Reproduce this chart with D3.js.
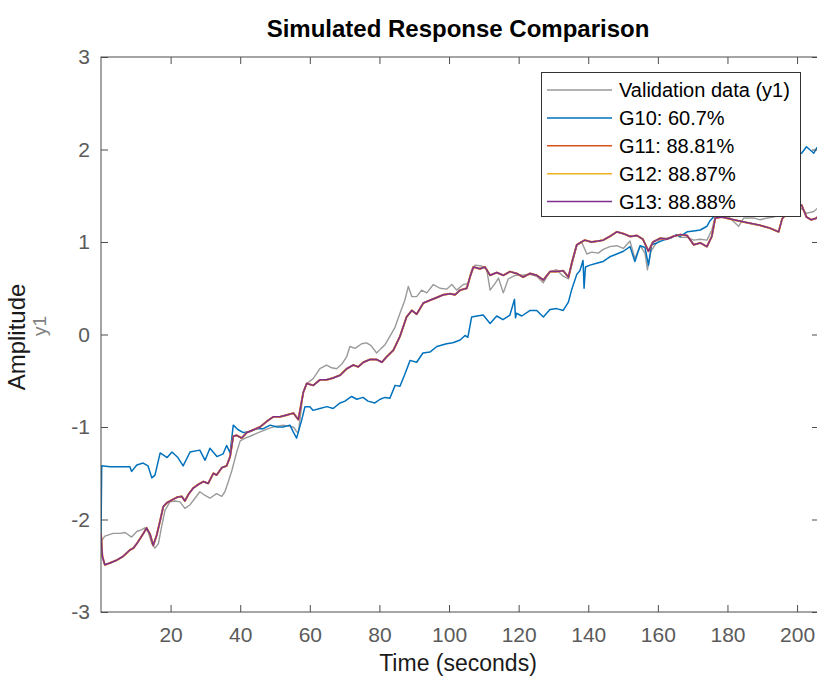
<!DOCTYPE html>
<html>
<head>
<meta charset="utf-8">
<script src="https://cdn.jsdelivr.net/npm/d3@7"></script>
<style>
  html, body { margin: 0; padding: 0; background: #ffffff; }
  svg { display: block; font-family: "Liberation Sans", Arial, sans-serif; }
</style>
</head>
<body>
<svg id="chart" width="817" height="677"></svg>
<script>
// Tick values
const xTicks = [20, 40, 60, 80, 100, 120, 140, 160, 180, 200];
const yTicks = [-3, -2, -1, 0, 1, 2, 3];

// Measured output (validation data)
const validationTime = [0,1.1,3.5,5.5,6.9,8.8,10.3,11.7,12.6,13.6,14.6,15.5,16.5,17.4,18.4,19.8,21.3,22.7,24.1,25.6,27,28.4,29.9,31.3,33.2,34.7,35.6,36.6,37.6,39,40,41.4,42.8,44.7,46.6,48.6,50.5,52.4,53.7,55.3,56.2,56.7,57.3,58.1,59.1,60.9,62.9,64.8,66.3,67.7,69.2,70.6,71.5,73,74.9,76.3,77.6,79.2,80.5,81.6,83,84.5,85.9,87.3,88.3,89.3,90.7,92.1,93.6,95.5,97.4,99.3,100.8,102.2,104.1,105.5,106.5,107.5,109.4,110.8,111.8,113.2,114.2,115.6,117,119,120.9,123.3,125.2,127.1,129,130.9,132.8,134.3,135.3,136.7,138.1,139.6,141,142.9,144.3,146.2,148.2,150.1,152,153.4,154.9,156.3,157,158,159.2,161.1,163.5,165.4,166.4,168.4,170.3,172.2,174.1,175.5,176.5,178.4,180.1,181.8,183.2,184.7,187.5,189.4,191.4,193.3,195.7,198.5,201.3,202.7,204.8,205.7,206.3];
const validationAmp = [-2.24,-2.18,-2.15,-2.15,-2.14,-2.19,-2.13,-2.11,-2.09,-2.14,-2.26,-2.31,-2.26,-2.08,-1.90,-1.81,-1.80,-1.81,-1.88,-1.84,-1.77,-1.70,-1.74,-1.77,-1.72,-1.75,-1.70,-1.59,-1.47,-1.27,-1.15,-1.12,-1.10,-1.07,-1.04,-1.01,-0.99,-0.98,-0.99,-1.00,-1.05,-1.06,-0.88,-0.62,-0.53,-0.48,-0.37,-0.33,-0.36,-0.37,-0.32,-0.24,-0.13,-0.15,-0.10,-0.09,-0.12,-0.20,-0.15,-0.11,-0.02,0.08,0.23,0.37,0.52,0.41,0.41,0.48,0.45,0.54,0.50,0.49,0.54,0.48,0.54,0.55,0.70,0.75,0.74,0.71,0.48,0.55,0.61,0.45,0.60,0.64,0.64,0.65,0.63,0.56,0.68,0.70,0.63,0.60,0.75,0.96,1.00,0.87,0.89,0.88,0.92,0.95,0.96,0.93,1.01,0.82,0.96,0.88,0.70,0.90,0.97,1.04,1.04,1.08,1.05,1.05,1.02,1.03,1.02,1.13,1.27,1.30,1.28,1.22,1.17,1.26,1.26,1.24,1.26,1.27,1.32,1.38,1.36,1.31,1.33,1.36,1.35];

// Simulated response of model G10
const g10Time = [0,0.2,2.6,8.3,8.8,10.3,12.1,13.5,14.6,15.5,17,19,20.4,22.1,23.6,25.6,28.4,29.9,31.3,33.3,35.1,36.1,37.1,38,39.4,40.9,42.8,44.8,46.5,48.6,50.6,52.3,54.3,55.2,56.2,57.7,58.6,60,60.9,62.9,64.9,66.7,68.7,70.1,72,73.5,75.3,76.7,78.7,80.2,81.6,83,84.5,85.9,87.3,88.8,90.7,92.5,94.5,96.5,99.3,101.1,103.2,104.6,105.4,106.5,108,109.8,111.8,113.7,115.5,117.5,118.8,119.1,119.4,120.9,123.3,125.2,127.1,129,130.9,132.8,134.3,135.2,136.7,137.6,138.5,138.8,139.2,140.5,142.4,144.3,146.2,148.2,150.1,152,153.4,154.9,156.3,157.3,158.2,159.7,161.6,163.5,165.4,166.4,168.4,170.3,172.2,174.1,175,176,177.9,182.2,186.5,190.8,195.1,199.4,201.3,202.7,203.6,204.8,205.7,206.3];
const g10Amp = [-2.2,-1.42,-1.43,-1.43,-1.48,-1.41,-1.39,-1.42,-1.55,-1.52,-1.28,-1.33,-1.27,-1.33,-1.42,-1.27,-1.25,-1.36,-1.23,-1.32,-1.29,-1.20,-1.28,-0.98,-1.03,-1.06,-1.05,-1.02,-1.02,-0.98,-1.00,-1.00,-0.98,-1.05,-1.12,-0.92,-0.78,-0.78,-0.82,-0.80,-0.78,-0.80,-0.74,-0.72,-0.67,-0.70,-0.68,-0.72,-0.74,-0.70,-0.68,-0.69,-0.55,-0.56,-0.43,-0.28,-0.30,-0.20,-0.19,-0.13,-0.10,-0.09,-0.06,-0.01,-0.03,0.19,0.20,0.21,0.12,0.20,0.16,0.21,0.38,0.18,0.23,0.20,0.26,0.26,0.19,0.27,0.28,0.26,0.35,0.48,0.65,0.69,0.80,0.50,0.73,0.75,0.77,0.79,0.84,0.87,0.90,0.95,0.79,0.96,0.94,0.75,0.97,0.99,1.02,1.04,1.08,1.06,1.11,1.12,1.13,1.17,1.23,1.27,1.35,1.45,1.55,1.68,1.80,1.92,1.96,2.03,2.00,1.96,2.02,2.01];

// Simulated response shared by G11, G12 and G13 (fits agree to within 0.07%)
const fitTime = [0,0.4,1.1,2.6,4.5,6.3,8.3,9.3,10.3,12.2,13.1,14.1,15,16,17,17.9,18.9,20.3,21.8,23.2,24.1,25.1,26.5,28,29.4,30.8,32.3,33.2,34.7,36.1,37.1,38,39,40.4,41.9,43.8,45.7,47.6,49.5,51.4,53.4,55.3,56.7,58.1,59.1,61,62.9,64.8,66.7,68.7,70.6,72.5,73.9,75.4,77.3,79.2,80.7,82.1,84,85.9,87.8,89.3,90.7,92.6,94.5,96.5,98.4,100.3,101.7,103.2,105.1,106,107,108.9,110.3,111.8,113.7,115.6,117.5,119.4,121.3,123.3,125.2,127.1,129,130.9,132.8,134.3,135.3,136.7,137.6,139,140.9,142.8,144.3,146.2,148.2,150.1,152,154,155.7,157.3,158.6,160.6,162.5,164.4,166.4,168.4,170.3,172.2,174.1,175.5,176.5,178.4,181.8,185.5,189.4,192.2,194.7,195.7,198,200,201.3,202.7,204.1,205.7,206.3];
const fitAmp = [-2.15,-2.40,-2.49,-2.47,-2.44,-2.40,-2.33,-2.31,-2.26,-2.15,-2.09,-2.16,-2.28,-2.17,-2.01,-1.86,-1.82,-1.79,-1.76,-1.75,-1.80,-1.73,-1.66,-1.62,-1.59,-1.61,-1.50,-1.52,-1.44,-1.42,-1.32,-1.10,-1.09,-1.12,-1.06,-1.03,-1.00,-0.94,-0.89,-0.89,-0.87,-0.85,-0.92,-0.63,-0.53,-0.55,-0.49,-0.49,-0.47,-0.44,-0.37,-0.33,-0.35,-0.30,-0.27,-0.27,-0.30,-0.24,-0.17,-0.02,0.19,0.26,0.22,0.34,0.37,0.40,0.43,0.44,0.43,0.48,0.50,0.62,0.73,0.71,0.73,0.64,0.67,0.64,0.68,0.66,0.62,0.66,0.64,0.59,0.68,0.68,0.69,0.62,0.78,0.97,0.99,1.02,1.00,1.01,1.02,1.06,1.11,1.09,1.06,1.07,1.03,0.90,1.00,1.04,1.03,1.06,1.08,1.07,0.97,0.99,0.95,1.06,1.26,1.27,1.24,1.21,1.18,1.15,1.11,1.25,1.35,1.40,1.40,1.27,1.24,1.26,1.30];

// Series in drawing order
const seriesNames = ["Validation data (y1)", "G10: 60.7%", "G11: 88.81%", "G12: 88.87%", "G13: 88.88%"];
const seriesColors = ["#9a9a9a", "#0072BD", "#D95319", "#EDB120", "#7E2F8E"];
const seriesWidths = [1.4, 1.5, 1.9, 1.7, 1.5];
const seriesTime = [validationTime, g10Time, fitTime, fitTime, fitTime];
const seriesAmp = [validationAmp, g10Amp, fitAmp, fitAmp, fitAmp];

const svg = d3.select("#chart");
const plotLeft = 101, plotRight = 819, plotTop = 57, plotBottom = 612;

const x = d3.scaleLinear().domain([0, 206.3]).range([plotLeft, plotRight]);
const y = d3.scaleLinear().domain([-3, 3]).range([plotBottom, plotTop]);

svg.append("rect").attr("width", 817).attr("height", 677).attr("fill", "#fff");

// Title
svg.append("text")
  .attr("x", 458).attr("y", 37)
  .attr("text-anchor", "middle")
  .attr("font-size", 24).attr("font-weight", "bold")
  .attr("fill", "#000")
  .text("Simulated Response Comparison");

// Clip region for the traces
svg.append("clipPath").attr("id", "plotClip")
  .append("rect").attr("x", plotLeft).attr("y", plotTop)
  .attr("width", plotRight - plotLeft).attr("height", plotBottom - plotTop);

const lineGen = d3.line().x(d => x(d[0])).y(d => y(d[1]));
const traces = svg.append("g").attr("clip-path", "url(#plotClip)");
seriesNames.forEach((name, i) => {
  const pts = seriesTime[i].map((t, k) => [t, seriesAmp[i][k]]);
  traces.append("path")
    .datum(pts)
    .attr("d", lineGen)
    .attr("fill", "none")
    .attr("stroke", seriesColors[i])
    .attr("stroke-width", seriesWidths[i])
    .attr("stroke-linejoin", "round");
});

// Axes: ticks point inward on all four sides
const axisColor = "#4d4d4d";
const tickTextColor = "#5a5a5a";
function styleAxis(g) {
  g.select(".domain").remove();
  g.selectAll(".tick line").attr("stroke", axisColor);
  g.selectAll(".tick text").attr("fill", tickTextColor)
    .attr("font-family", "Liberation Sans, Arial, sans-serif").attr("font-size", 21);
}

svg.append("g").attr("transform", `translate(0,${plotBottom})`)
  .call(d3.axisBottom(x).tickValues(xTicks).tickSizeInner(-7).tickSizeOuter(0).tickPadding(15)
    .tickFormat(d => String(d)))
  .call(styleAxis);
svg.append("g").attr("transform", `translate(0,${plotTop})`)
  .call(d3.axisTop(x).tickValues(xTicks).tickSizeInner(-7).tickSizeOuter(0).tickFormat(""))
  .call(styleAxis);
svg.append("g").attr("transform", `translate(${plotLeft},0)`)
  .call(d3.axisLeft(y).tickValues(yTicks).tickSizeInner(-7).tickSizeOuter(0).tickPadding(11)
    .tickFormat(d => String(d)))
  .call(styleAxis);
svg.append("g").attr("transform", `translate(${plotRight},0)`)
  .call(d3.axisRight(y).tickValues(yTicks).tickSizeInner(-7).tickSizeOuter(0).tickFormat(""))
  .call(styleAxis);

// Axes box
svg.append("rect")
  .attr("x", plotLeft).attr("y", plotTop)
  .attr("width", plotRight - plotLeft).attr("height", plotBottom - plotTop)
  .attr("fill", "none").attr("stroke", axisColor).attr("stroke-width", 1);

// Axis labels
svg.append("text")
  .attr("x", 458).attr("y", 671)
  .attr("text-anchor", "middle").attr("font-size", 23).attr("fill", "#1a1a1a")
  .text("Time (seconds)");
svg.append("text")
  .attr("transform", "translate(25,337) rotate(-90)")
  .attr("text-anchor", "middle").attr("font-size", 24).attr("fill", "#1a1a1a")
  .text("Amplitude");
svg.append("text")
  .attr("transform", "translate(46,326) rotate(-90)")
  .attr("text-anchor", "middle").attr("font-size", 19).attr("fill", "#808080")
  .text("y1");

// Legend
const legend = svg.append("g");
legend.append("rect")
  .attr("x", 541.5).attr("y", 72.5).attr("width", 259).attr("height", 144)
  .attr("fill", "#fff").attr("stroke", "#333").attr("stroke-width", 1);
const rowY = d3.scaleLinear().domain([0, 4]).range([90, 201.5]);
seriesNames.forEach((name, i) => {
  const yy = rowY(i);
  legend.append("line")
    .attr("x1", 547).attr("x2", 612).attr("y1", yy).attr("y2", yy)
    .attr("stroke", seriesColors[i]).attr("stroke-width", 1.5);
  legend.append("text")
    .attr("x", 619).attr("y", yy).attr("dy", "0.35em")
    .attr("font-size", 20).attr("fill", "#000")
    .text(name);
});
</script>
</body>
</html>
